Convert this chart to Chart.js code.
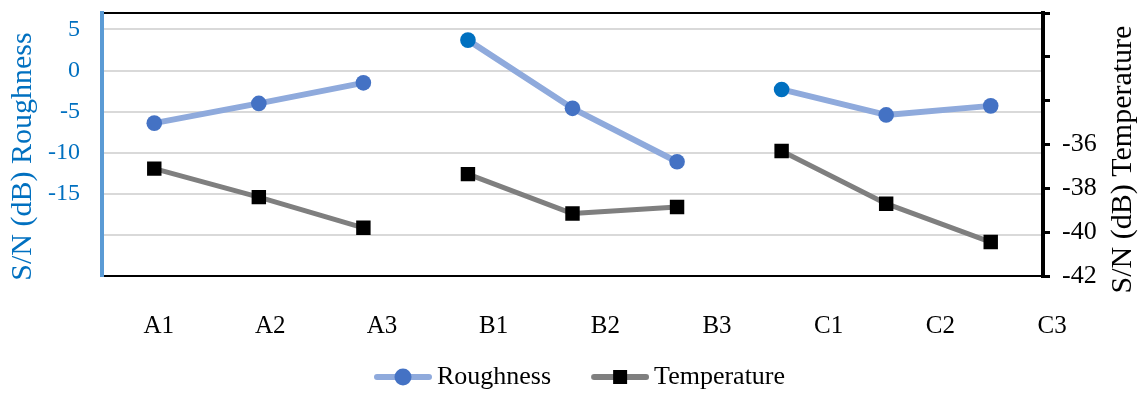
<!DOCTYPE html>
<html>
<head>
<meta charset="utf-8">
<script src="https://cdn.jsdelivr.net/npm/chart.js@4"></script>
<style>
  html, body { margin: 0; padding: 0; background: #fff; }
  canvas { display: block; }
</style>
</head>
<body>
<canvas id="chart" width="1143" height="394"></canvas>
<script>
// Data
const categories = ['A1', 'A2', 'A3', 'B1', 'B2', 'B3', 'C1', 'C2', 'C3'];
const roughness = [-6.4, -4.0, -1.5, 3.7, -4.6, -11.1, -2.3, -5.4, -4.3];
const temperature = [-37.1, -38.4, -39.8, -37.35, -39.15, -38.85, -36.3, -38.7, -40.45];
const roughnessTicks = [-25, -20, -15, -10, -5, 0, 5, 7];   // first/last = axis ends
const roughnessLabels = [-15, -10, -5, 0, 5];
const temperatureTicks = [-42, -40, -38, -36, -34, -32, -30];
const temperatureLabels = [-42, -40, -38, -36];
const seriesNames = ['Roughness', 'Temperature'];
const axisTitles = ['S/N (dB) Roughness', 'S/N (dB) Temperature'];

const FONT = 'Liberation Serif';
Chart.defaults.font.family = FONT;
Chart.defaults.color = '#000';

const roughTop = roughnessTicks[roughnessTicks.length - 1];
const roughBottom = roughnessTicks[0];
const tempTop = temperatureTicks[temperatureTicks.length - 1];

// no line between the A / B / C groups
const groupBreak = c => categories[c.p0DataIndex][0] !== categories[c.p1DataIndex][0];

// legend sample: line with marker
function legendIcon(lineColor, lineWidth, drawMarker) {
    const c = document.createElement('canvas');
    c.width = 82;
    c.height = 20;
    const g = c.getContext('2d');
    g.strokeStyle = lineColor;
    g.lineWidth = lineWidth;
    g.lineCap = 'round';
    g.beginPath();
    g.moveTo(27, 10);
    g.lineTo(79, 10);
    g.stroke();
    drawMarker(g, 53, 10);
    return c;
}

const icons = [
    legendIcon('#8FAADC', 6, (g, x, y) => {
        g.fillStyle = '#4472C4';
        g.beginPath();
        g.arc(x, y, 8.5, 0, Math.PI * 2);
        g.fill();
    }),
    legendIcon('#7F7F7F', 6, (g, x, y) => {
        g.fillStyle = '#000';
        g.fillRect(x - 7, y - 7, 14, 14);
    })
];

// axis titles both read bottom-to-top
const sideTitles = {
    id: 'sideTitles',
    afterDraw(chart) {
        const { ctx, chartArea, scales } = chart;
        const mid = (chartArea.top + chartArea.bottom) / 2;
        const items = [
            [scales.y.left + 18, mid + 12, '#0070C0', axisTitles[0]],
            [scales.y1.right - 15, mid + 15, '#000000', axisTitles[1]]
        ];
        ctx.save();
        ctx.font = '30px "' + FONT + '"';
        ctx.textAlign = 'center';
        ctx.textBaseline = 'middle';
        items.forEach(([x, y, color, text]) => {
            ctx.save();
            ctx.translate(x, y);
            ctx.rotate(-Math.PI / 2);
            ctx.fillStyle = color;
            ctx.fillText(text, 0, 0);
            ctx.restore();
        });
        ctx.restore();
    }
};

new Chart(document.getElementById('chart'), {
    type: 'line',
    data: {
        labels: categories,
        datasets: [
            {
                label: seriesNames[0],
                data: roughness,
                xAxisID: 'x',
                yAxisID: 'y',
                borderColor: '#8FAADC',
                borderWidth: 6,
                borderJoinStyle: 'round',
                pointStyle: 'circle',
                pointRadius: 7.8,
                pointHoverRadius: 7.8,
                pointBorderWidth: 0,
                pointBackgroundColor: ['#4472C4', '#4472C4', '#4472C4', '#0070C0', '#4472C4', '#4472C4', '#0070C0', '#4472C4', '#4472C4'],
                segment: { borderColor: c => groupBreak(c) ? 'transparent' : undefined },
                tension: 0
            },
            {
                label: seriesNames[1],
                data: temperature,
                xAxisID: 'x',
                yAxisID: 'y1',
                borderColor: '#7F7F7F',
                borderWidth: 5,
                borderJoinStyle: 'round',
                pointStyle: 'rect',
                pointRadius: 10.2,
                pointHoverRadius: 10.2,
                pointBorderWidth: 0,
                pointBackgroundColor: '#000',
                segment: { borderColor: c => groupBreak(c) ? 'transparent' : undefined },
                tension: 0
            }
        ]
    },
    options: {
        responsive: false,
        devicePixelRatio: 1,
        animation: false,
        layout: { padding: { left: 5, right: 5, top: 13, bottom: 0 } },
        plugins: {
            tooltip: { enabled: false },
            legend: {
                position: 'bottom',
                maxHeight: 54,
                labels: {
                    usePointStyle: true,
                    pointStyleWidth: 66,
                    padding: 24,
                    color: '#000',
                    font: { family: FONT, size: 26 },
                    generateLabels: chart => chart.data.datasets.map((ds, i) => ({
                        text: ds.label,
                        pointStyle: icons[i],
                        fillStyle: 'transparent',
                        strokeStyle: 'transparent',
                        lineWidth: 0,
                        hidden: false,
                        datasetIndex: i
                    }))
                }
            }
        },
        scales: {
            x: {
                type: 'category',
                position: 'top',
                offset: true,
                grid: { display: false, drawTicks: false },
                ticks: { display: false },
                border: { color: '#000', width: 2 }
            },
            xl: {
                type: 'linear',
                position: 'bottom',
                min: 0.4925,
                max: 8.919,
                grid: { display: false, drawTicks: false },
                border: { color: '#000', width: 2 },
                afterBuildTicks: s => { s.ticks = categories.map((c, i) => ({ value: i + 1 })); },
                afterFit: s => { s.height = 64; },
                ticks: {
                    autoSkip: false,
                    maxRotation: 0,
                    minRotation: 0,
                    padding: 35,
                    color: '#000',
                    font: { family: FONT, size: 25 },
                    callback: v => categories[v - 1]
                }
            },
            y: {
                position: 'left',
                min: roughBottom,
                max: roughTop,
                afterBuildTicks: s => { s.ticks = roughnessTicks.map(v => ({ value: v })); },
                afterFit: s => { s.width = 97; },
                grid: {
                    color: c => (c.tick && (c.tick.value === roughTop || c.tick.value === roughBottom)) ? 'transparent' : '#D9D9D9',
                    lineWidth: 2,
                    tickColor: 'transparent',
                    tickLength: 19
                },
                border: { color: '#5B9BD5', width: 4 },
                ticks: {
                    padding: 3,
                    color: '#0070C0',
                    font: c => ({ family: FONT, size: (c.tick && c.tick.value === roughTop) ? 1 : 24 }),
                    callback: v => roughnessLabels.includes(v) ? String(v) : ''
                }
            },
            y1: {
                position: 'right',
                min: temperatureTicks[0],
                max: tempTop,
                afterBuildTicks: s => { s.ticks = temperatureTicks.map(v => ({ value: v })); },
                afterFit: s => { s.width = 95; },
                grid: {
                    drawOnChartArea: false,
                    color: '#000',
                    lineWidth: 3,
                    tickLength: 7
                },
                border: { color: '#000', width: 4 },
                ticks: {
                    padding: 12,
                    color: '#000',
                    font: c => ({ family: FONT, size: (c.tick && c.tick.value === tempTop) ? 1 : 26 }),
                    callback: v => temperatureLabels.includes(v) ? String(v) : ''
                }
            }
        }
    },
    plugins: [sideTitles]
});
</script>
</body>
</html>
